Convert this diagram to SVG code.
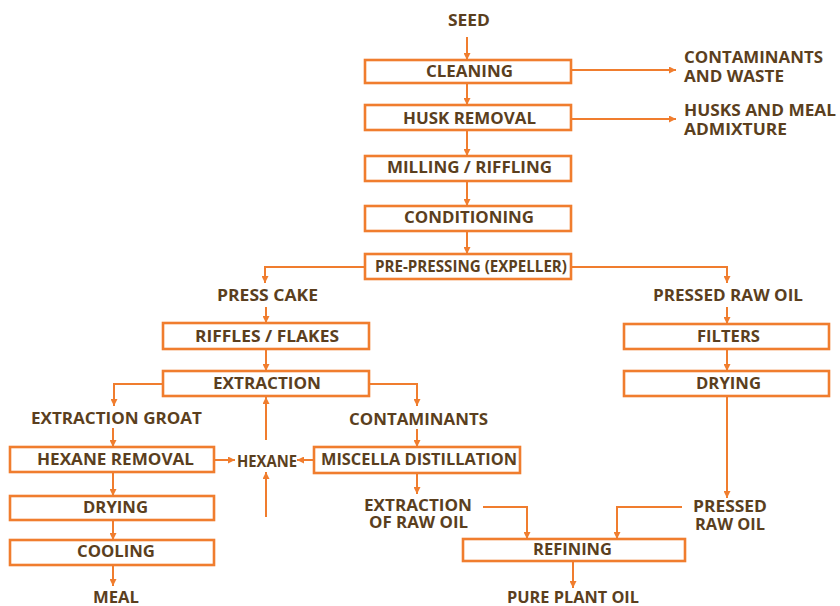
<svg xmlns="http://www.w3.org/2000/svg" width="840" height="606" viewBox="0 0 840 606">
<defs>
<marker id="ah" markerUnits="userSpaceOnUse" markerWidth="8" markerHeight="7" refX="7" refY="3.5" orient="auto">
<path d="M0,0 L7,3.5 L0,7 z" fill="#F07D2E"/>
</marker>
<style>
.box{fill:#fff;stroke:#F07D2E;stroke-width:2.6}
.t{font-family:"Open Sans","DejaVu Sans",sans-serif;font-weight:700;font-size:16.5px;fill:#5B3F1E;text-anchor:middle}
.l{text-anchor:start}
.c{fill:none;stroke:#F07D2E;stroke-width:2;marker-end:url(#ah)}
.n{fill:none;stroke:#F07D2E;stroke-width:2}
</style>
</defs>
<rect width="840" height="606" fill="#fff"/>
<g id="connectors">
<path class="c" d="M467,37 V60"/>
<path class="c" d="M467,83 V105"/>
<path class="c" d="M467,130 V156"/>
<path class="c" d="M467,181 V206"/>
<path class="c" d="M467,231 V254"/>
<path class="c" d="M571,70 H676"/>
<path class="c" d="M571,119 H676"/>
<path class="c" d="M365,267 H265 V283"/>
<path class="c" d="M571,267 H727 V283"/>
<path class="c" d="M266,307 V323"/>
<path class="c" d="M266,349 V371"/>
<path class="c" d="M163,384 H114 V406"/>
<path class="c" d="M369,384 H417 V406"/>
<path class="c" d="M113,428 V447"/>
<path class="c" d="M113,472 V496"/>
<path class="c" d="M113,520 V540"/>
<path class="c" d="M113,565 V586"/>
<path class="c" d="M727,307 V324"/>
<path class="c" d="M727,349 V371"/>
<path class="c" d="M727,396 V498"/>
<path class="c" d="M417,429 V447"/>
<path class="c" d="M417,473 V494"/>
<path class="c" d="M214,460 H235"/>
<path class="c" d="M314,460 H297"/>
<path class="c" d="M266,440 V397"/>
<path class="c" d="M266,517 V472"/>
<path class="c" d="M483,507 H527 V539"/>
<path class="c" d="M682,507 H617 V539"/>
<path class="c" d="M573,561 V588"/>
</g>
<g id="seed"><text class="t" x="469" y="26" textLength="42" lengthAdjust="spacingAndGlyphs">SEED</text></g>
<g id="cleaning"><rect class="box" x="365" y="60" width="206" height="23"/><text class="t" x="469.5" y="77" textLength="87" lengthAdjust="spacingAndGlyphs">CLEANING</text></g>
<g id="contaminants-waste"><text class="t l" x="684" y="63" textLength="139" lengthAdjust="spacingAndGlyphs">CONTAMINANTS</text><text class="t l" x="684" y="82" textLength="100" lengthAdjust="spacingAndGlyphs">AND WASTE</text></g>
<g id="husk-removal"><rect class="box" x="365" y="105" width="206" height="25"/><text class="t" x="469.5" y="124" textLength="133" lengthAdjust="spacingAndGlyphs">HUSK REMOVAL</text></g>
<g id="husks-meal"><text class="t l" x="684" y="116" textLength="152" lengthAdjust="spacingAndGlyphs">HUSKS AND MEAL</text><text class="t l" x="684" y="135" textLength="103" lengthAdjust="spacingAndGlyphs">ADMIXTURE</text></g>
<g id="milling"><rect class="box" x="365" y="156" width="206" height="25"/><text class="t" x="469.5" y="173" textLength="165" lengthAdjust="spacingAndGlyphs">MILLING / RIFFLING</text></g>
<g id="conditioning"><rect class="box" x="365" y="206" width="206" height="25"/><text class="t" x="469" y="223" textLength="130" lengthAdjust="spacingAndGlyphs">CONDITIONING</text></g>
<g id="pre-pressing"><rect class="box" x="365" y="254" width="206" height="25"/><text class="t" x="471" y="272" textLength="192" lengthAdjust="spacingAndGlyphs">PRE-PRESSING (EXPELLER)</text></g>
<g id="press-cake"><text class="t" x="267.5" y="301" textLength="101" lengthAdjust="spacingAndGlyphs">PRESS CAKE</text></g>
<g id="pressed-raw-oil-1"><text class="t" x="728" y="301" textLength="150" lengthAdjust="spacingAndGlyphs">PRESSED RAW OIL</text></g>
<g id="riffles"><rect class="box" x="163" y="323" width="206" height="26"/><text class="t" x="267" y="342" textLength="144" lengthAdjust="spacingAndGlyphs">RIFFLES / FLAKES</text></g>
<g id="extraction"><rect class="box" x="163" y="371" width="206" height="25"/><text class="t" x="267" y="389" textLength="108" lengthAdjust="spacingAndGlyphs">EXTRACTION</text></g>
<g id="filters"><rect class="box" x="624" y="324" width="205" height="25"/><text class="t" x="728.5" y="342" textLength="63" lengthAdjust="spacingAndGlyphs">FILTERS</text></g>
<g id="drying-right"><rect class="box" x="624" y="371" width="205" height="25"/><text class="t" x="728.5" y="389" textLength="65" lengthAdjust="spacingAndGlyphs">DRYING</text></g>
<g id="extraction-groat"><text class="t" x="116.5" y="424" textLength="171" lengthAdjust="spacingAndGlyphs">EXTRACTION GROAT</text></g>
<g id="contaminants"><text class="t" x="418.5" y="425" textLength="139" lengthAdjust="spacingAndGlyphs">CONTAMINANTS</text></g>
<g id="hexane-removal"><rect class="box" x="10" y="447" width="204" height="25"/><text class="t" x="115.5" y="465" textLength="157" lengthAdjust="spacingAndGlyphs">HEXANE REMOVAL</text></g>
<g id="hexane"><text class="t" x="267" y="467" textLength="60" lengthAdjust="spacingAndGlyphs">HEXANE</text></g>
<g id="miscella"><rect class="box" x="314" y="447" width="206" height="26"/><text class="t" x="419" y="465" textLength="196" lengthAdjust="spacingAndGlyphs">MISCELLA DISTILLATION</text></g>
<g id="drying-left"><rect class="box" x="10" y="496" width="204" height="24"/><text class="t" x="115.5" y="513" textLength="65" lengthAdjust="spacingAndGlyphs">DRYING</text></g>
<g id="cooling"><rect class="box" x="10" y="540" width="204" height="25"/><text class="t" x="116" y="557" textLength="78" lengthAdjust="spacingAndGlyphs">COOLING</text></g>
<g id="meal"><text class="t" x="116" y="603" textLength="46" lengthAdjust="spacingAndGlyphs">MEAL</text></g>
<g id="extraction-raw-oil"><text class="t" x="418" y="511" textLength="108" lengthAdjust="spacingAndGlyphs">EXTRACTION</text><text class="t" x="418.5" y="528" textLength="99" lengthAdjust="spacingAndGlyphs">OF RAW OIL</text></g>
<g id="pressed-raw-oil-2"><text class="t" x="730" y="512" textLength="74" lengthAdjust="spacingAndGlyphs">PRESSED</text><text class="t" x="730" y="530" textLength="70" lengthAdjust="spacingAndGlyphs">RAW OIL</text></g>
<g id="refining"><rect class="box" x="463" y="539" width="222" height="22"/><text class="t" x="572.5" y="555" textLength="79" lengthAdjust="spacingAndGlyphs">REFINING</text></g>
<g id="pure-plant-oil"><text class="t" x="573" y="603" textLength="132" lengthAdjust="spacingAndGlyphs">PURE PLANT OIL</text></g>
</svg>
